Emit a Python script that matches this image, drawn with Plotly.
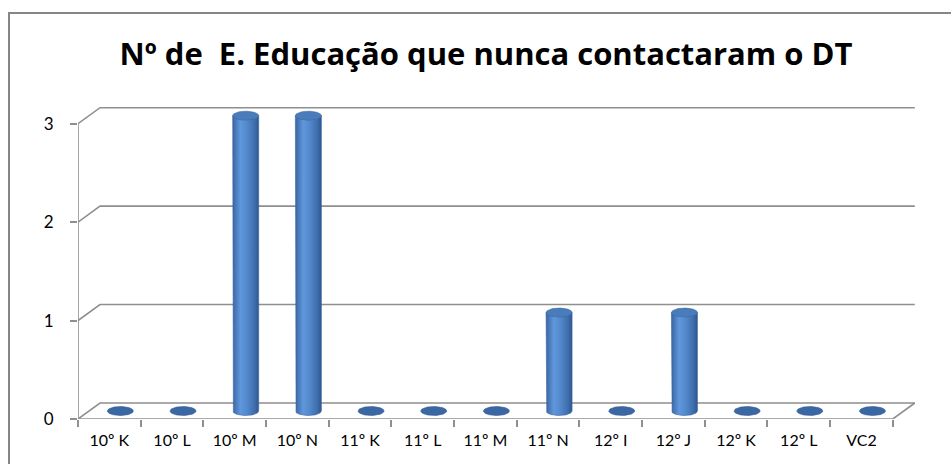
import numpy as np
import plotly.graph_objects as go

# Chart data
categories = ["10º K", "10º L", "10º M", "10º N", "11º K", "11º L", "11º M",
              "11º N", "12º I", "12º J", "12º K", "12º L", "VC2"]
values = [0, 0, 3, 3, 0, 0, 0, 1, 0, 1, 0, 0, 0]
y_ticks = [0, 1, 2, 3]
title_text = "Nº de  E. Educação que nunca contactaram o DT"

# Pseudo-3D geometry (in axis units)
W, H = 951, 464
ML, MR, MT, MB = 78, 30, 104, 45
X0, X1 = -0.5, 12.95
Y0, Y1 = 0.0, 3.2
px_x = (W - ML - MR) / (X1 - X0)
px_y = (H - MT - MB) / (Y1 - Y0)
DX = 22 / px_x          # depth offset, horizontal
DY = 16 / px_y          # depth offset, vertical
RX = 13 / px_x          # cylinder radius
RY = 4.5 / px_y         # ellipse half-height

n = len(categories)
xl, xr = -0.5, n - 0.5
grid_col = "#8f8f8f"

fig = go.Figure()

# back wall gridlines with the side diagonal
for v in y_ticks:
    fig.add_trace(go.Scatter(
        x=[xl, xl + DX, xr + DX], y=[v, v + DY, v + DY],
        mode="lines", line=dict(color=grid_col, width=1.6),
        hoverinfo="skip"))

# floor outline
fig.add_trace(go.Scatter(
    x=[xl, xr, xr + DX], y=[0, 0, DY],
    mode="lines", line=dict(color=grid_col, width=1.6), hoverinfo="skip"))

# front value axis line
fig.add_trace(go.Scatter(
    x=[xl, xl], y=[0, max(y_ticks)],
    mode="lines", line=dict(color=grid_col, width=1.6), hoverinfo="skip"))

body_scale = [[0.0, "#3a66a2"], [0.3, "#6097dc"], [0.55, "#5389cc"],
              [0.85, "#3f6dac"], [1.0, "#2c5790"]]

t_front = np.linspace(np.pi, 2 * np.pi, 40)
t_full = np.linspace(0, 2 * np.pi, 80)

for i, v in enumerate(values):
    cx = i + DX / 2
    yb = DY / 2
    yt = v + DY / 2
    if v > 0:
        bx = np.concatenate([[cx - RX], cx + RX * np.cos(t_front), [cx + RX, cx - RX]])
        by = np.concatenate([[yt], yb + RY * np.sin(t_front), [yt, yt]])
        fig.add_trace(go.Scatter(
            x=bx, y=by, mode="lines", fill="toself",
            line=dict(width=0.6, color="#3a64a0"),
            fillgradient=dict(type="horizontal", colorscale=body_scale),
            hoverinfo="skip"))
        cap_fill, cap_line = "#4a7cbc", "#3d689f"
    else:
        cap_fill, cap_line = "#3b67a3", "#335d95"
    fig.add_trace(go.Scatter(
        x=cx + RX * np.cos(t_full), y=yt + RY * np.sin(t_full),
        mode="lines", fill="toself", fillcolor=cap_fill,
        line=dict(width=0.6, color=cap_line), hoverinfo="skip"))

font_family = "Lato, Open Sans, sans-serif"

fig.update_layout(
    width=W, height=H,
    margin=dict(l=ML, r=MR, t=MT, b=MB),
    paper_bgcolor="white", plot_bgcolor="white",
    showlegend=False,
    title=dict(text="<b>" + title_text + "</b>", x=486 / W, xanchor="center",
               y=1 - 54 / H, yanchor="middle",
               font=dict(family="Open Sans, sans-serif", size=31, color="#000000")),
    xaxis=dict(range=[X0, X1], showgrid=False, zeroline=False, showline=False,
               tickmode="array", tickvals=list(range(n)), ticktext=categories,
               ticks="", ticklabelstandoff=10,
               tickfont=dict(family=font_family, size=16, color="#000000"),
               minor=dict(tickmode="array", tickvals=[k - 0.5 for k in range(n + 1)],
                          ticks="outside", ticklen=7, tickwidth=1.6,
                          tickcolor=grid_col, showgrid=False),
               fixedrange=True),
    yaxis=dict(range=[Y0, Y1], showgrid=False, zeroline=False, showline=False,
               tickmode="array", tickvals=y_ticks, ticks="outside", ticklen=7,
               tickwidth=1.6, tickcolor=grid_col, ticklabelstandoff=13,
               tickfont=dict(family=font_family, size=17, color="#000000"),
               fixedrange=True),
    shapes=[dict(type="rect", xref="paper", yref="paper",
                 x0=(9 - ML) / (W - ML - MR), x1=(W + 10 - ML) / (W - ML - MR),
                 y0=-(MB + 10) / (H - MT - MB), y1=(H - MB - 13) / (H - MT - MB),
                 line=dict(color="#868686", width=2), layer="below")],
)

fig.write_html("out.html")
